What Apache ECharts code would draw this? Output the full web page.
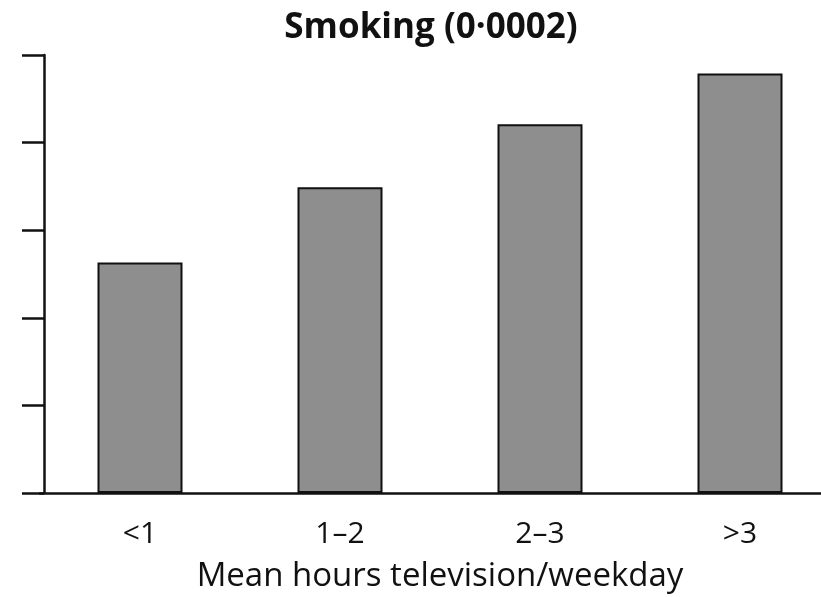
<!DOCTYPE html>
<html>
<head>
<meta charset="utf-8">
<script src="https://cdn.jsdelivr.net/npm/echarts@6/dist/echarts.min.js"></script>
<style>
  html, body { margin: 0; padding: 0; background: #fff; }
  #chart { width: 821px; height: 597px; }
</style>
</head>
<body>
<div id="chart"></div>
<script>
// Television viewing categories (mean hours per weekday)
const categories = ['<1', '1\u20132', '2\u20133', '>3'];
// Smoking level for each viewing category
const smokingValues = [2.63, 3.49, 4.21, 4.79];
const chartTitle = 'Smoking (0\u00b70002)';
const xAxisTitle = 'Mean hours television/weekday';

const fontFamily = '"Open Sans", "Noto Sans", sans-serif';

const chart = echarts.init(document.getElementById('chart'));
chart.setOption({
  animation: false,
  backgroundColor: '#ffffff',
  title: {
    text: chartTitle,
    left: 426,
    textAlign: 'center',
    top: 6,
    textStyle: { fontFamily, fontSize: 35, fontWeight: 'bold', color: '#111' }
  },
  grid: { left: 40, right: -19, top: 55, bottom: 104, outerBoundsMode: 'none' },
  xAxis: {
    type: 'category',
    data: categories,
    boundaryGap: true,
    axisLine: { lineStyle: { color: '#111', width: 2.5 } },
    axisTick: { show: false },
    axisLabel: { fontFamily, fontSize: 30, color: '#111', margin: 26 },
    name: xAxisTitle,
    nameLocation: 'middle',
    nameGap: 67,
    nameTextStyle: { fontFamily, fontSize: 33, color: '#111' }
  },
  yAxis: {
    type: 'value',
    min: 0,
    max: 5,
    interval: 1,
    offset: -4,
    axisLine: { show: true, lineStyle: { color: '#111', width: 2.5 } },
    axisTick: { show: true, length: 22, lineStyle: { color: '#111', width: 2.5 } },
    axisLabel: { show: false },
    splitLine: { show: false }
  },
  series: [{
    type: 'bar',
    data: smokingValues,
    barWidth: 85,
    itemStyle: { color: '#8e8e8e', borderColor: '#111', borderWidth: 2 }
  }]
});
</script>
</body>
</html>
